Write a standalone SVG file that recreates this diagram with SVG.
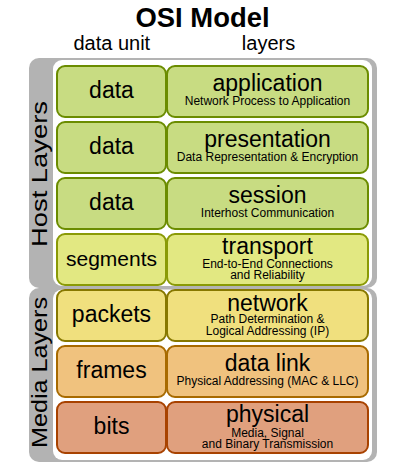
<svg xmlns="http://www.w3.org/2000/svg" width="404" height="467" viewBox="0 0 404 467">
<style>
text{font-family:"Liberation Sans",Arial,sans-serif;fill:#000;text-anchor:middle}
.title{font-size:27px;font-weight:bold}
.hdr{font-size:20px}
.side{font-size:22px}
.unit{font-size:23px}
.name{font-size:23px}
.sub{font-size:12px}
.panel{fill:#b3b3b3}
.inner{fill:#fff}
.box{stroke-width:2}
.g{fill:#c8dc82;stroke:#6b8c00}
.t{fill:#e2e882;stroke:#8a9a06}
.n{fill:#f0e07e;stroke:#877800}
.d{fill:#f0c27e;stroke:#a86a00}
.p{fill:#e0a07e;stroke:#a84200}
</style>
<rect width="404" height="467" fill="#fff"/>
<text class="title" x="202.5" y="26.5" textLength="134" lengthAdjust="spacingAndGlyphs">OSI Model</text>
<text class="hdr" x="111.8" y="50">data unit</text>
<text class="hdr" x="268.5" y="50">layers</text>
<g id="host-panel">
<rect class="panel" x="29" y="58" width="348" height="230" rx="10"/>
<rect class="inner" x="53" y="60" width="319" height="226" rx="9"/>
<text class="side" x="46.5" y="174" transform="rotate(-90 46.5 174)" textLength="146" lengthAdjust="spacingAndGlyphs">Host Layers</text>
</g>
<g id="media-panel">
<rect class="panel" x="29" y="288" width="348" height="174" rx="10"/>
<rect class="inner" x="53" y="289.5" width="319" height="170.5" rx="9"/>
<text class="side" x="46.5" y="372.5" transform="rotate(-90 46.5 372.5)" textLength="151" lengthAdjust="spacingAndGlyphs">Media Layers</text>
</g>
<g id="row-application">
<rect class="box g" x="57" y="66" width="109" height="51" rx="8"/>
<rect class="box g" x="167" y="66" width="201" height="51" rx="8"/>
<text class="unit" x="111.5" y="98">data</text>
<text class="name" x="267.5" y="90.5">application</text>
<text class="sub" x="267.5" y="104.5">Network Process to Application</text>
</g>
<g id="row-presentation">
<rect class="box g" x="57" y="122" width="109" height="51" rx="8"/>
<rect class="box g" x="167" y="122" width="201" height="51" rx="8"/>
<text class="unit" x="111.5" y="154">data</text>
<text class="name" x="267.5" y="146.5">presentation</text>
<text class="sub" x="267.5" y="160.5">Data Representation &amp; Encryption</text>
</g>
<g id="row-session">
<rect class="box g" x="57" y="178" width="109" height="51" rx="8"/>
<rect class="box g" x="167" y="178" width="201" height="51" rx="8"/>
<text class="unit" x="111.5" y="210">data</text>
<text class="name" x="267.5" y="202.5">session</text>
<text class="sub" x="267.5" y="216.5">Interhost Communication</text>
</g>
<g id="row-transport">
<rect class="box t" x="57" y="234" width="109" height="51" rx="8"/>
<rect class="box t" x="167" y="234" width="201" height="51" rx="8"/>
<text class="unit" x="111.5" y="266" style="font-size:21px">segments</text>
<text class="name" x="267.5" y="254">transport</text>
<text class="sub" x="267.5" y="267.5">End-to-End Connections</text>
<text class="sub" x="267.5" y="279">and Reliability</text>
</g>
<g id="row-network">
<rect class="box n" x="57" y="290" width="109" height="51" rx="8"/>
<rect class="box n" x="167" y="290" width="201" height="51" rx="8"/>
<text class="unit" x="111.5" y="322">packets</text>
<text class="name" x="267.5" y="310.5">network</text>
<text class="sub" x="267.5" y="322.5">Path Determination &amp;</text>
<text class="sub" x="267.5" y="334.5">Logical Addressing (IP)</text>
</g>
<g id="row-datalink">
<rect class="box d" x="57" y="346" width="109" height="51" rx="8"/>
<rect class="box d" x="167" y="346" width="201" height="51" rx="8"/>
<text class="unit" x="111.5" y="378">frames</text>
<text class="name" x="267.5" y="370.5">data link</text>
<text class="sub" x="267.5" y="384.5">Physical Addressing (MAC &amp; LLC)</text>
</g>
<g id="row-physical">
<rect class="box p" x="57" y="402" width="109" height="51" rx="8"/>
<rect class="box p" x="167" y="402" width="201" height="51" rx="8"/>
<text class="unit" x="111.5" y="434">bits</text>
<text class="name" x="267.5" y="422">physical</text>
<text class="sub" x="267.5" y="436.5">Media, Signal</text>
<text class="sub" x="267.5" y="448">and Binary Transmission</text>
</g>
<g id="connectors"></g>
</svg>
